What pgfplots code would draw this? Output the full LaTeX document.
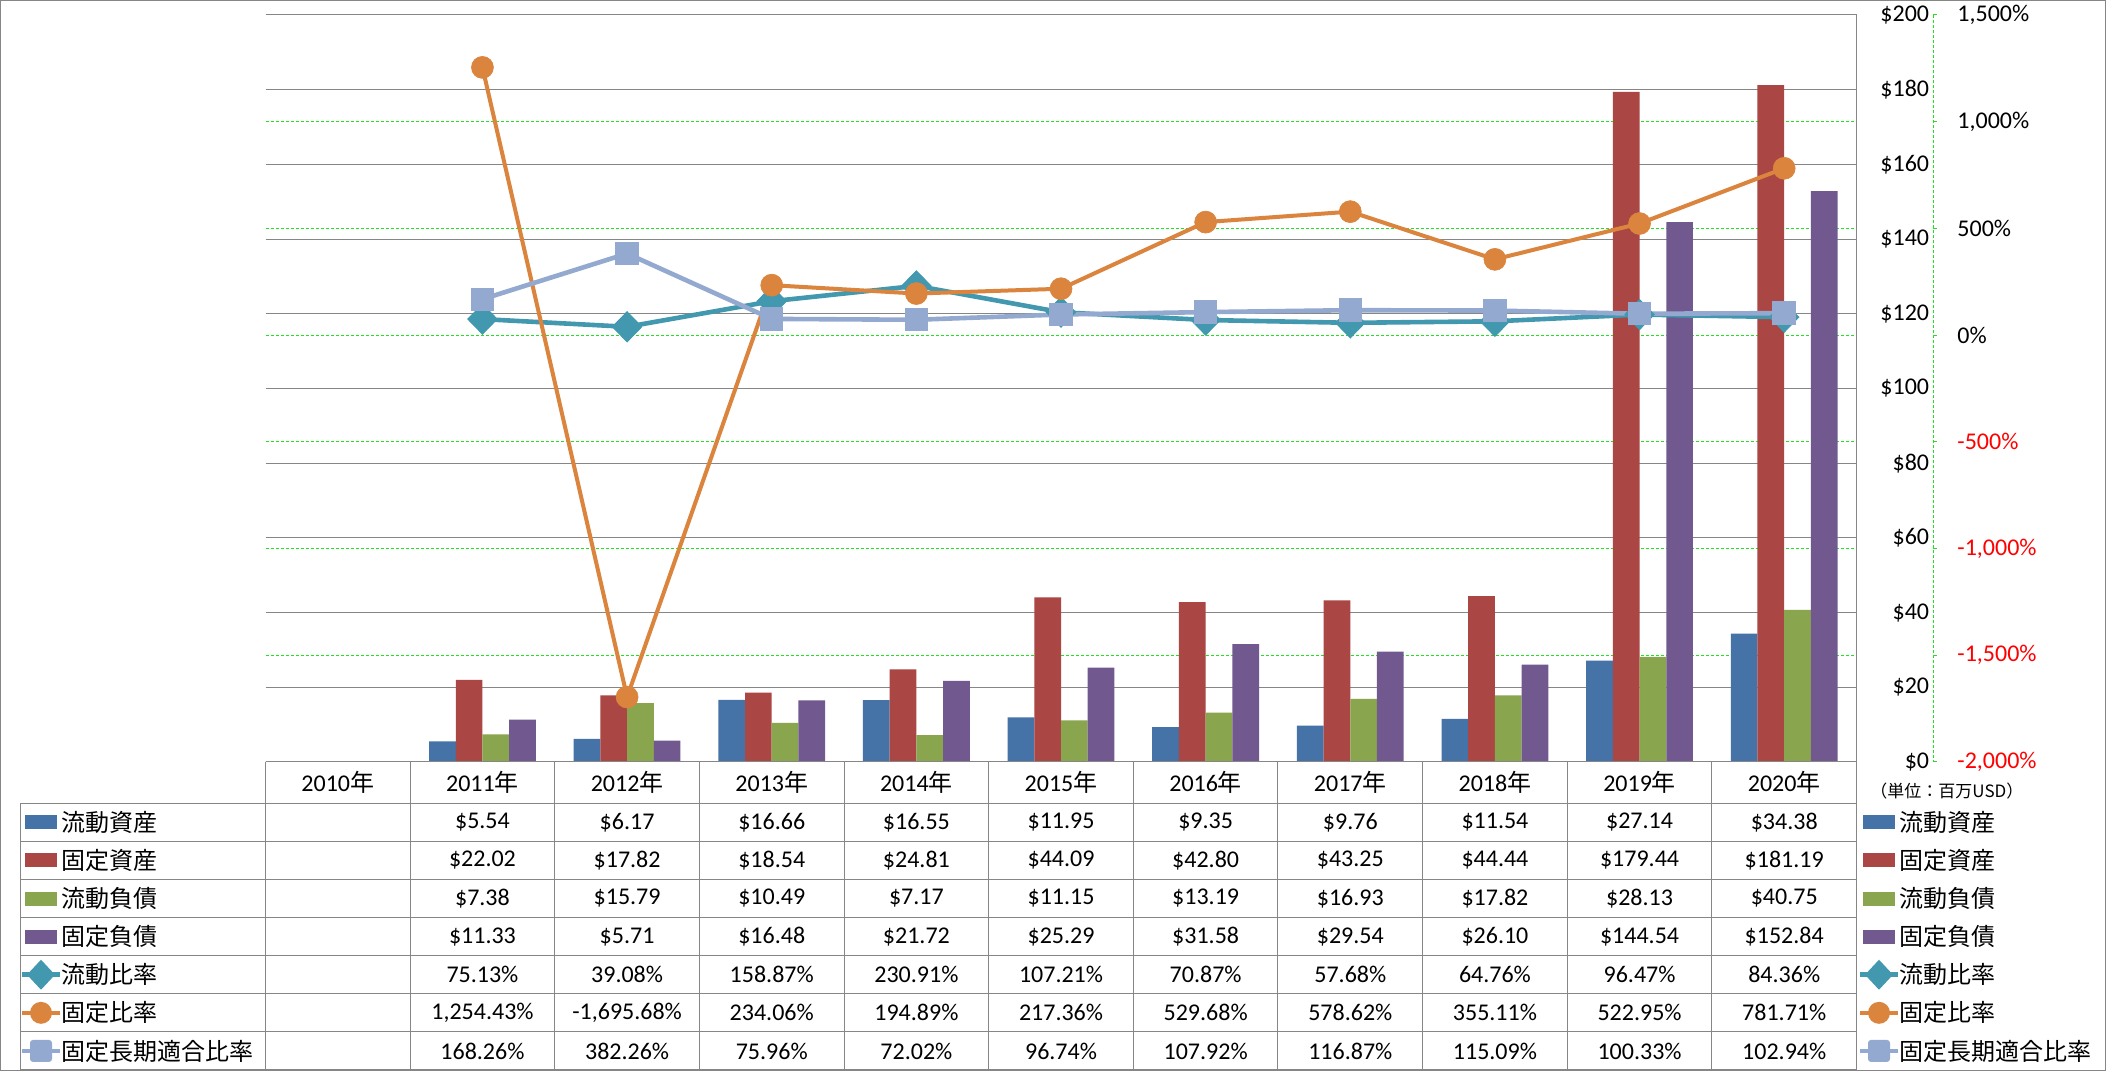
\documentclass[border=0pt]{standalone}
\usepackage{pgfplots}
\pgfplotsset{compat=1.18}
\usepackage{fontspec}
\setmainfont{Carlito}
\newfontfamily\jp{Noto Sans CJK JP}
\definecolor{cA}{HTML}{4572A7}
\definecolor{cB}{HTML}{AA4643}
\definecolor{cC}{HTML}{89A54E}
\definecolor{cD}{HTML}{71588F}
\definecolor{cT}{HTML}{4198AF}
\definecolor{cO}{HTML}{DB843D}
\definecolor{cL}{HTML}{93A9CF}
\definecolor{gridgray}{HTML}{868686}
\definecolor{gridgreen}{HTML}{22E022}
\begin{document}
\begin{tikzpicture}
\useasboundingbox (0,0) rectangle (1053pt,535.5pt);
\fill[white] (0,0) rectangle (1053pt,535.5pt);
% percent axis: grid and labels
\begin{axis}[at={(132.75pt,154.5pt)}, anchor=south west, scale only axis,
  width=795.5pt, height=373.5pt, xmin=-0.5, xmax=10.5, ymin=-2000, ymax=1500,
  hide x axis, axis y line*=right, y axis line style={draw=none}, major tick length=0pt,
  ytick={-2000,-1500,-1000,-500,0,500,1000,1500},
  yticklabels={{\textcolor{red}{-2,000\%}},{\textcolor{red}{-1,500\%}},{\textcolor{red}{-1,000\%}},{\textcolor{red}{-500\%}},{0\%},{500\%},{1,000\%},{1,500\%}},
  yticklabel style={anchor=west, inner sep=0pt, xshift=50.25pt, font=\fontsize{12}{14}\selectfont},
  ymajorgrids, major grid style={gridgreen, dash pattern=on 1.5pt off 1pt, line width=0.5pt},
  clip=false]
\end{axis}
% dollar axis: bars
\begin{axis}[at={(132.75pt,154.5pt)}, anchor=south west, scale only axis,
  width=795.5pt, height=373.5pt, xmin=-0.5, xmax=10.5, ymin=0, ymax=200,
  hide x axis, axis y line*=right, y axis line style={draw=none}, major tick length=0pt,
  ytick={0,20,40,60,80,100,120,140,160,180,200},
  yticklabels={\$0,\$20,\$40,\$60,\$80,\$100,\$120,\$140,\$160,\$180,\$200},
  yticklabel style={anchor=east, inner sep=0pt, xshift=36.5pt, font=\fontsize{12}{14}\selectfont},
  ymajorgrids, major grid style={gridgray, line width=0.5pt},
  ybar=0pt, bar width=13.35pt, clip=false]
\addplot[fill=cA, draw=none] coordinates {(1,5.54) (2,6.17) (3,16.66) (4,16.55) (5,11.95) (6,9.35) (7,9.76) (8,11.54) (9,27.14) (10,34.38)};
\addplot[fill=cB, draw=none] coordinates {(1,22.02) (2,17.82) (3,18.54) (4,24.81) (5,44.09) (6,42.80) (7,43.25) (8,44.44) (9,179.44) (10,181.19)};
\addplot[fill=cC, draw=none] coordinates {(1,7.38) (2,15.79) (3,10.49) (4,7.17) (5,11.15) (6,13.19) (7,16.93) (8,17.82) (9,28.13) (10,40.75)};
\addplot[fill=cD, draw=none] coordinates {(1,11.33) (2,5.71) (3,16.48) (4,21.72) (5,25.29) (6,31.58) (7,29.54) (8,26.10) (9,144.54) (10,152.84)};
\end{axis}
% percent axis: lines
\begin{axis}[at={(132.75pt,154.5pt)}, anchor=south west, scale only axis,
  width=795.5pt, height=373.5pt, xmin=-0.5, xmax=10.5, ymin=-2000, ymax=1500,
  hide axis, clip=false]
\addplot[cT, line width=2.3pt, mark=diamond*, mark size=7.5pt, mark options={xscale=1.3, solid, fill=cT, draw=cT, line width=0.5pt}] coordinates {(1,75.13) (2,39.08) (3,158.87) (4,230.91) (5,107.21) (6,70.87) (7,57.68) (8,64.76) (9,96.47) (10,84.36)};
\addplot[cO, line width=2pt, mark=*, mark size=5.5pt, mark options={solid, fill=cO, draw=cO, line width=0.3pt}] coordinates {(1,1254.43) (2,-1695.68) (3,234.06) (4,194.89) (5,217.36) (6,529.68) (7,578.62) (8,355.11) (9,522.95) (10,781.71)};
\addplot[cL, line width=2.3pt, mark=square*, mark size=5.6pt, mark options={solid, fill=cL, draw=cL, line width=0.5pt, rounded corners=1.5pt}] coordinates {(1,168.26) (2,382.26) (3,75.96) (4,72.02) (5,96.74) (6,107.92) (7,116.87) (8,115.09) (9,100.33) (10,102.94)};
\end{axis}
% data table
\begin{scope}[x=0.5pt, y=-0.5pt, shift={(0pt,535.5pt)}, every node/.style={font=\fontsize{12}{14}\selectfont, inner sep=0pt}]
% secondary axis line with ticks
\draw[gridgreen, dash pattern=on 1.5pt off 1pt, line width=0.5pt] (1933,15) -- (1933,762);
\foreach \k in {0,...,7} \draw[gridgreen, line width=0.5pt] (1933,{762-106.714*\k}) -- (1937,{762-106.714*\k});
\draw[gridgray, line width=0.5pt] (265.5,762) -- (1856.5,762);
\foreach \k in {0,...,7} \draw[gridgray, line width=0.5pt] (20.7,{803.3+38.1*\k}) -- (1856.5,{803.3+38.1*\k});
\draw[gridgray, line width=0.5pt] (20.7,803.3) -- (20.7,1070);
\foreach \k in {0,...,10} \draw[gridgray, line width=0.5pt] ({265.5+144.64*\k},762) -- ({265.5+144.64*\k},1070);
\draw[gridgray, line width=0.5pt] (1856.5,15) -- (1856.5,1070);
\foreach \yr [count=\i from 0] in {2010,2011,2012,2013,2014,2015,2016,2017,2018,2019,2020}
  \node at ({265.5+144.64*(\i+0.5)},782.6) {\yr{\jp 年}};
\foreach \v [count=\i] in {\$5.54,\$6.17,\$16.66,\$16.55,\$11.95,\$9.35,\$9.76,\$11.54,\$27.14,\$34.38}
  \node at ({265.5+144.64*(\i+0.5)},{803.3+38.1*0.5}) {\v};
\foreach \v [count=\i] in {\$22.02,\$17.82,\$18.54,\$24.81,\$44.09,\$42.80,\$43.25,\$44.44,\$179.44,\$181.19}
  \node at ({265.5+144.64*(\i+0.5)},{803.3+38.1*1.5}) {\v};
\foreach \v [count=\i] in {\$7.38,\$15.79,\$10.49,\$7.17,\$11.15,\$13.19,\$16.93,\$17.82,\$28.13,\$40.75}
  \node at ({265.5+144.64*(\i+0.5)},{803.3+38.1*2.5}) {\v};
\foreach \v [count=\i] in {\$11.33,\$5.71,\$16.48,\$21.72,\$25.29,\$31.58,\$29.54,\$26.10,\$144.54,\$152.84}
  \node at ({265.5+144.64*(\i+0.5)},{803.3+38.1*3.5}) {\v};
\foreach \v [count=\i] in {75.13\%,39.08\%,158.87\%,230.91\%,107.21\%,70.87\%,57.68\%,64.76\%,96.47\%,84.36\%}
  \node at ({265.5+144.64*(\i+0.5)},{803.3+38.1*4.5}) {\v};
\foreach \v [count=\i] in {{1,254.43\%},{-1,695.68\%},234.06\%,194.89\%,217.36\%,529.68\%,578.62\%,355.11\%,522.95\%,781.71\%}
  \node at ({265.5+144.64*(\i+0.5)},{803.3+38.1*5.5}) {\v};
\foreach \v [count=\i] in {168.26\%,382.26\%,75.96\%,72.02\%,96.74\%,107.92\%,116.87\%,115.09\%,100.33\%,102.94\%}
  \node at ({265.5+144.64*(\i+0.5)},{803.3+38.1*6.5}) {\v};
% row labels (left) and legend (right)
\foreach \kx/\tx in {41/61, 1879/1899} {
  \foreach \col/\lab [count=\r from 0] in {cA/流動資産, cB/固定資産, cC/流動負債, cD/固定負債} {
    \fill[\col] ({\kx-16},{803.3+38.1*(\r+0.5)-7}) rectangle ({\kx+16},{803.3+38.1*(\r+0.5)+7});
    \node[anchor=west] at (\tx,{803.3+38.1*(\r+0.5)}) {\jp\lab};
  }
  \draw[cT, line width=2.3pt] ({\kx-19},{803.3+38.1*4.5}) -- ({\kx+19},{803.3+38.1*4.5});
  \fill[cT] (\kx,{803.3+38.1*4.5-15}) -- ({\kx+14},{803.3+38.1*4.5}) -- (\kx,{803.3+38.1*4.5+15}) -- ({\kx-14},{803.3+38.1*4.5}) -- cycle;
  \node[anchor=west] at (\tx,{803.3+38.1*4.5}) {\jp 流動比率};
  \draw[cO, line width=2pt] ({\kx-19},{803.3+38.1*5.5}) -- ({\kx+19},{803.3+38.1*5.5});
  \fill[cO] (\kx,{803.3+38.1*5.5}) circle [radius=11];
  \node[anchor=west] at (\tx,{803.3+38.1*5.5}) {\jp 固定比率};
  \draw[cL, line width=2.3pt] ({\kx-19},{803.3+38.1*6.5}) -- ({\kx+19},{803.3+38.1*6.5});
  \fill[cL, rounded corners=1.5pt] ({\kx-11},{803.3+38.1*6.5-11}) rectangle ({\kx+11},{803.3+38.1*6.5+11});
  \node[anchor=west] at (\tx,{803.3+38.1*6.5}) {\jp 固定長期適合比率};
}
\node[anchor=west, font=\fontsize{8.5}{10}\selectfont] at (1870,791) {\jp （単位：百万USD）};
\end{scope}
\draw[gridgray, line width=0.5pt] (0.25pt,0.25pt) rectangle (1052.75pt,535.25pt);
\end{tikzpicture}
\end{document}
